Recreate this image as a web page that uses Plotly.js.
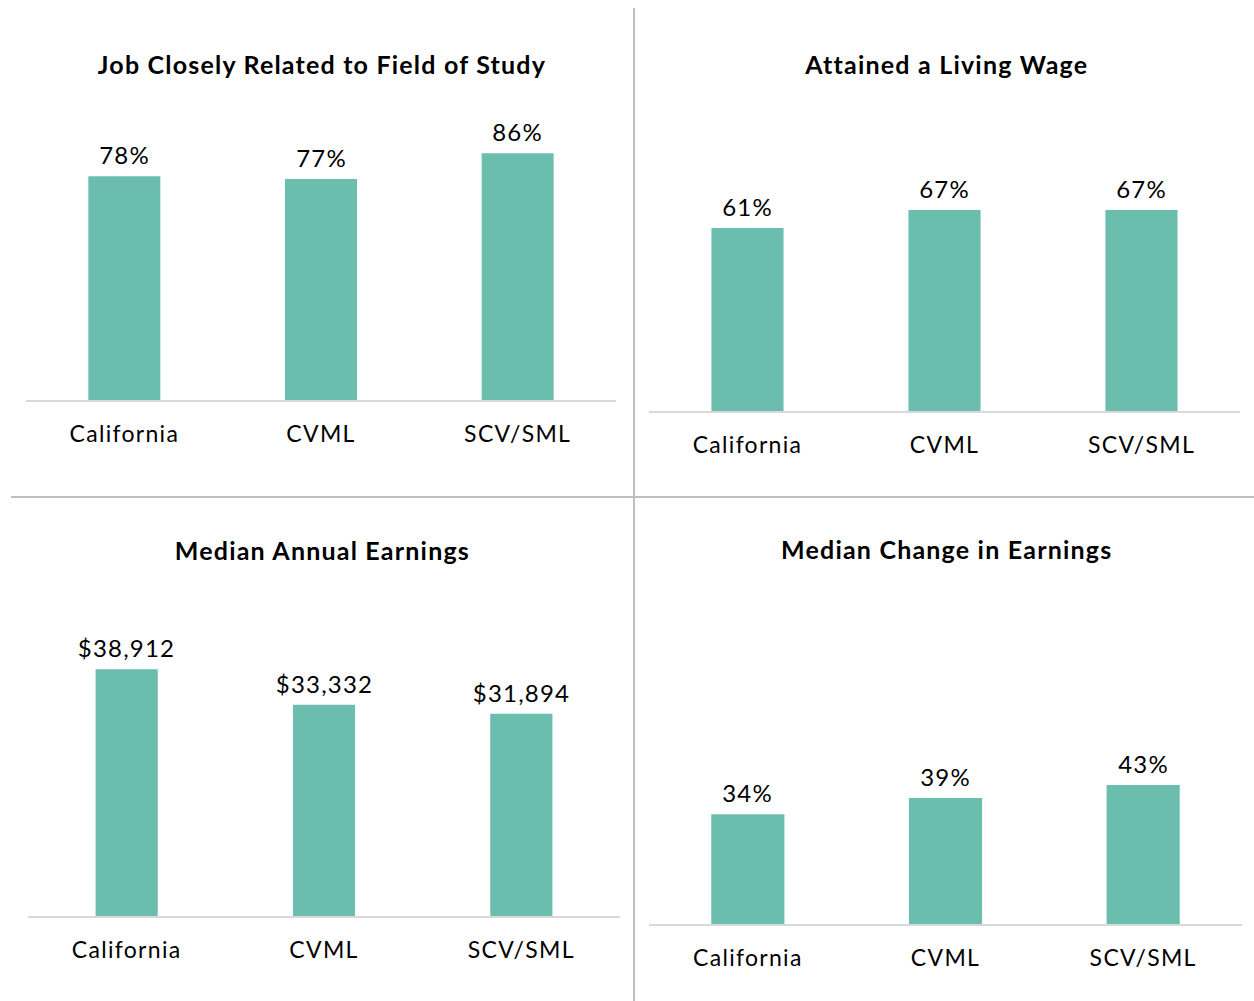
<!DOCTYPE html>
<html>
<head>
<meta charset="utf-8">
<script src="https://cdn.plot.ly/plotly-3.0.1.min.js"></script>
<style>
html,body{margin:0;padding:0;background:#fff;}
#chart{width:1254px;height:1001px;}
#chart .annotation-text{letter-spacing:1.2px;}
#chart .xtick text, #chart .x2tick text, #chart .x3tick text, #chart .x4tick text{letter-spacing:1.3px;}
</style>
</head>
<body>
<div id="chart"></div>
<script>
const categories = ["California", "CVML", "SCV/SML"];
const jobRelated = [78, 77, 86];
const livingWage = [61, 67, 67];
const annualEarnings = [38912, 33332, 31894];
const changeEarnings = [34, 39, 43];
const panelTitles = ["Job Closely Related to Field of Study", "Attained a Living Wage", "Median Annual Earnings", "Median Change in Earnings"];

const W = 1254, H = 1001;
const px = v => v / W;
const py = v => 1 - v / H;
const barColor = "rgb(107,189,174)";
const FONT = "Lato, 'Open Sans', sans-serif";

const pct = v => v + "%";
const money = v => "$" + v.toLocaleString("en-US");

const panels = [
  {vals: jobRelated, fmt: pct, x0: 26, x1: 616, base: 400, top: 113, max: 100, width: 0.366, title: panelTitles[0], tx: 322, ty: 64},
  {vals: livingWage, fmt: pct, x0: 649, x1: 1240, base: 411, top: 111, max: 100, width: 0.366, title: panelTitles[1], tx: 946, ty: 64},
  {vals: annualEarnings, fmt: money, x0: 28, x1: 620, base: 916, top: 599, max: 50000, width: 0.315, title: panelTitles[2], tx: 322, ty: 550},
  {vals: changeEarnings, fmt: pct, x0: 649, x1: 1242, base: 924, top: 601, max: 100, width: 0.37, title: panelTitles[3], tx: 946, ty: 549}
];

const data = [];
const layout = {
  width: W, height: H,
  margin: {l: 0, r: 0, t: 0, b: 0},
  paper_bgcolor: "#fff", plot_bgcolor: "rgba(0,0,0,0)",
  showlegend: false,
  font: {family: FONT, color: "#000"},
  annotations: [],
  shapes: [
    {type: "line", xref: "paper", yref: "paper", x0: px(634), x1: px(634), y0: py(8), y1: py(1001), line: {color: "#bfbfbf", width: 2}},
    {type: "line", xref: "paper", yref: "paper", x0: px(11), x1: px(1254), y0: py(497), y1: py(497), line: {color: "#bfbfbf", width: 2}}
  ]
};

panels.forEach((p, i) => {
  const n = i === 0 ? "" : String(i + 1);
  const xa = "x" + n, ya = "y" + n;
  data.push({
    type: "bar", x: categories, y: p.vals, xaxis: xa, yaxis: ya,
    marker: {color: barColor}, width: p.width, hoverinfo: "skip"
  });
  layout["xaxis" + n] = {
    domain: [px(p.x0), px(p.x1)], anchor: ya,
    showline: true, linecolor: "#d9d9d9", linewidth: 2,
    showgrid: false, zeroline: false, ticks: "",
    ticklabelstandoff: 12,
    tickfont: {family: FONT, size: 23, color: "#000"},
    fixedrange: true
  };
  layout["yaxis" + n] = {
    domain: [py(p.base), py(p.top)], anchor: xa,
    range: [0, p.max], visible: false, fixedrange: true
  };
  p.vals.forEach((v, j) => {
    layout.annotations.push({
      xref: xa, yref: ya, x: categories[j], y: v,
      text: p.fmt(v), showarrow: false, yanchor: "bottom", yshift: 5,
      font: {family: FONT, size: 24, color: "#000"}
    });
  });
  layout.annotations.push({
    xref: "paper", yref: "paper", x: px(p.tx), y: py(p.ty),
    text: "<b>" + p.title + "</b>", showarrow: false,
    xanchor: "center", yanchor: "middle",
    font: {family: FONT, size: 25, color: "#000"}
  });
});

Plotly.newPlot("chart", data, layout, {staticPlot: true, displayModeBar: false});
</script>
</body>
</html>
